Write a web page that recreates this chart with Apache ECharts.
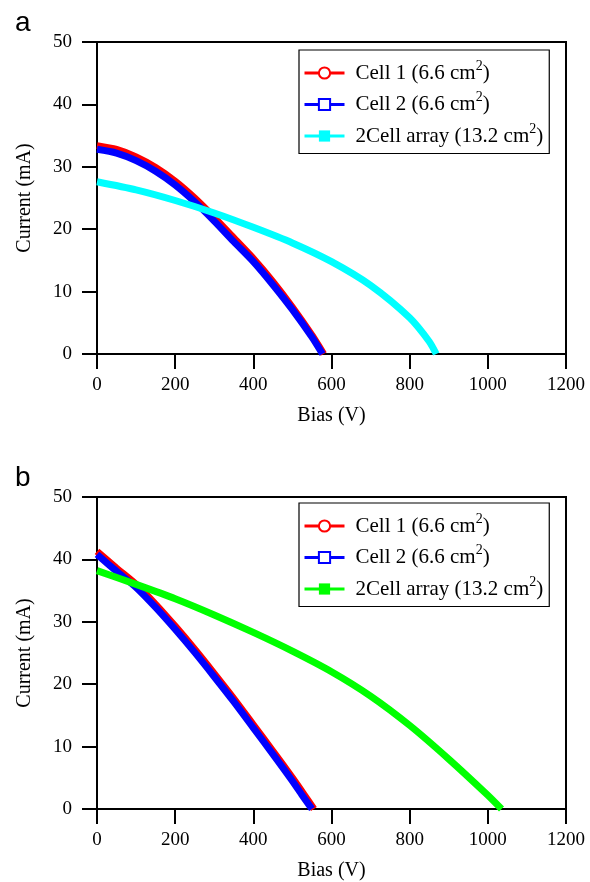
<!DOCTYPE html>
<html>
<head>
<meta charset="utf-8">
<script src="https://cdn.jsdelivr.net/npm/echarts@6/dist/echarts.min.js"></script>
<style>
  html, body { margin: 0; padding: 0; background: #fff; }
  #main { width: 590px; height: 882px; }
</style>
</head>
<body>
<div id="main"></div>
<script>
// panel a: bias (V) / current (mA)
var cell1A = [[0, 33.4], [50, 32.8], [100, 31.6], [150, 29.9], [200, 27.7], [250, 25.0], [300, 21.9], [350, 18.6], [400, 15.3], [450, 11.6], [500, 7.5], [550, 3.0], [580, 0]];
var cell2A = [[0, 32.8], [50, 32.2], [100, 31.0], [150, 29.3], [200, 27.1], [250, 24.4], [300, 21.3], [350, 18.0], [400, 14.8], [450, 11.1], [500, 7.1], [550, 2.7], [577, 0]];
var arrayA = [[0, 27.6], [100, 26.3], [200, 24.6], [300, 22.6], [400, 20.3], [500, 17.8], [600, 14.8], [700, 11.0], [800, 5.8], [850, 2.0], [868, 0]];

// panel b
var cell1B = [[0, 41.3], [50, 38.6], [100, 36.0], [150, 32.8], [200, 29.3], [250, 25.6], [300, 21.7], [350, 17.7], [400, 13.5], [450, 9.3], [500, 5.0], [530, 2.3], [555, 0]];
var cell2B = [[0, 40.8], [50, 38.1], [100, 35.5], [150, 32.3], [200, 28.8], [250, 25.1], [300, 21.2], [350, 17.2], [400, 13.0], [450, 8.8], [500, 4.5], [525, 2.2], [550, 0]];
var arrayB = [[0, 38.2], [100, 36.0], [200, 33.7], [300, 31.1], [400, 28.3], [500, 25.3], [600, 22.0], [700, 18.1], [800, 13.4], [900, 8.0], [1000, 2.2], [1035, 0]];

var names = ['Cell 1 (6.6 cm2)', 'Cell 2 (6.6 cm2)', '2Cell array (13.2 cm2)'];
var serif = 'Liberation Serif';

function xAx(idx) {
  return {
    gridIndex: idx, type: 'value', min: 0, max: 1200, interval: 200,
    name: 'Bias (V)', nameLocation: 'middle', nameGap: 52,
    nameTextStyle: { fontFamily: serif, fontSize: 20, color: '#000' },
    axisLine: { lineStyle: { color: '#000', width: 2 } },
    axisTick: { length: 15, lineStyle: { color: '#000', width: 2 } },
    axisLabel: { fontFamily: serif, fontSize: 19, color: '#000', margin: 22, formatter: function (v) { return String(v); } },
    splitLine: { show: false }
  };
}
function yAx(idx) {
  return {
    gridIndex: idx, type: 'value', min: 0, max: 50, interval: 10,
    name: 'Current (mA)', nameLocation: 'middle', nameGap: 62,
    nameTextStyle: { fontFamily: serif, fontSize: 20, color: '#000' },
    axisLine: { lineStyle: { color: '#000', width: 2 } },
    axisTick: { length: 15, lineStyle: { color: '#000', width: 2 } },
    axisLabel: { fontFamily: serif, fontSize: 19, color: '#000', margin: 25 },
    splitLine: { show: false }
  };
}
function ser(name, data, color, symbol, idx) {
  return {
    name: name, type: 'line', xAxisIndex: idx, yAxisIndex: idx,
    data: data, smooth: 0.25, symbol: symbol, showSymbol: false,
    lineStyle: { color: color, width: 7 }, itemStyle: { color: color },
    animation: false
  };
}
function leg(idx, top, right) {
  return {
    left: 299, top: top, orient: 'vertical', width: right,
    data: names.map(function (n) { return { name: n + (idx ? ' ' : '') }; }),
    itemWidth: 40, itemHeight: 14, itemGap: 7,
    padding: [9, 6, 7, 4],
    borderColor: '#000', borderWidth: 1.2, backgroundColor: '#fff',
    lineStyle: { width: 3 },
    textStyle: {
      fontFamily: serif, fontSize: 21, color: '#000',
      rich: {
        t: { fontFamily: serif, fontSize: 21, color: '#000', padding: [0, 0, 0, 6] },
        u: { fontFamily: serif, fontSize: 21, color: '#000' },
        s: { fontFamily: serif, fontSize: 14, color: '#000', verticalAlign: 'top', padding: [0, 0, 14, 0] }
      }
    },
    formatter: function (n) {
      var base = n.trim().replace('cm2)', 'cm');
      return '{t|' + base + '}{s|2}{u|)}';
    }
  };
}

var chart = echarts.init(document.getElementById('main'), null, { renderer: 'canvas' });
chart.setOption({
  animation: false,
  title: [
    { text: 'a', left: 10, top: 4, textStyle: { fontFamily: 'Liberation Sans', fontSize: 28, fontWeight: 'normal', color: '#000' } },
    { text: 'b', left: 10, top: 459, textStyle: { fontFamily: 'Liberation Sans', fontSize: 28, fontWeight: 'normal', color: '#000' } }
  ],
  grid: [
    { left: 97, top: 42, width: 469, height: 312, show: true, borderColor: '#000', borderWidth: 2 },
    { left: 97, top: 497, width: 469, height: 312, show: true, borderColor: '#000', borderWidth: 2 }
  ],
  xAxis: [xAx(0), xAx(1)],
  yAxis: [yAx(0), yAx(1)],
  legend: [leg(0, 50, 249), leg(1, 503, 254)],
  series: [
    ser(names[0], cell1A, '#ff0000', 'emptyCircle', 0),
    ser(names[1], cell2A, '#0000ff', 'emptyRect', 0),
    ser(names[2], arrayA, '#00ffff', 'rect', 0),
    ser(names[0] + ' ', cell1B, '#ff0000', 'emptyCircle', 1),
    ser(names[1] + ' ', cell2B, '#0000ff', 'emptyRect', 1),
    ser(names[2] + ' ', arrayB, '#00ff00', 'rect', 1)
  ]
});
</script>
</body>
</html>
